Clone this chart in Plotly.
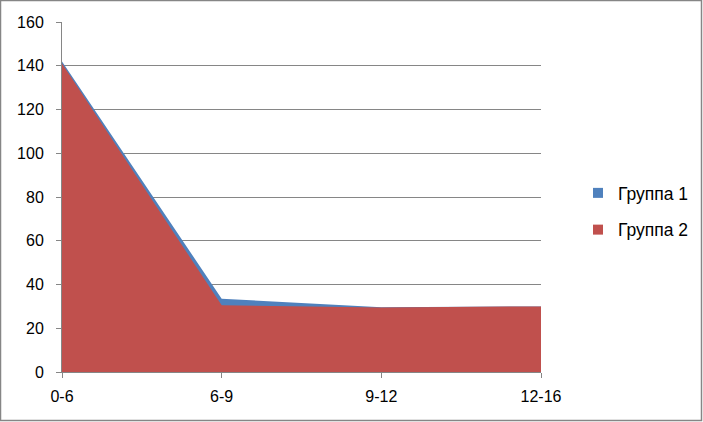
import plotly.graph_objects as go

# =========================
# Data
# =========================

categories = ['0-6', '6-9', '9-12', '12-16']
group_1 = [142, 33.5, 29.6, 30]
group_2 = [141, 30.5, 29.5, 30]
y_ticks = [0, 20, 40, 60, 80, 100, 120, 140, 160]
names = ['Группа 1', 'Группа 2']
colors = ['#4F81BD', '#C0504D']

# =========================
# Figure
# =========================

W, H = 703, 422
L, R, T, B = 62, 162, 22, 50
pw, ph = W - L - R, H - T - B

fig = go.Figure()

for name, vals, c in zip(names, [group_1, group_2], colors):
    fig.add_trace(go.Scatter(
        x=categories, y=vals, name=name,
        mode='lines', fill='tozeroy',
        line=dict(color=c, width=0),
        fillcolor=c, showlegend=False
    ))

# legend swatches (squares, as in Excel)
for name, c in zip(names, colors):
    fig.add_trace(go.Scatter(
        x=[None], y=[None], name=name, legendgroup=name,
        mode='markers',
        marker=dict(symbol='square', size=10, color=c)
    ))

font = dict(family='Liberation Sans, sans-serif', size=16, color='#000000')

fig.update_layout(
    width=W, height=H,
    margin=dict(l=L, r=R, t=T, b=B, autoexpand=False),
    paper_bgcolor='white',
    plot_bgcolor='white',
    font=font,
    showlegend=True,
    legend=dict(
        xref='container', yref='container',
        x=578 / W, y=1 - 175 / H,
        xanchor='left', yanchor='top',
        bgcolor='rgba(0,0,0,0)',
        font=dict(family='Liberation Sans, sans-serif', size=17.5, color='#000000'),
        tracegroupgap=11,
        traceorder='grouped',
        itemwidth=30
    ),
    xaxis=dict(
        type='category', range=[0, 3],
        showgrid=False, zeroline=False,
        showline=True, linecolor='#868686', linewidth=1,
        ticks='outside', ticklen=5, tickcolor='#868686',
        ticklabelstandoff=5,
        tickfont=font
    ),
    yaxis=dict(
        range=[0, 160], tickvals=y_ticks,
        showgrid=True, gridcolor='#868686', gridwidth=1,
        zeroline=False,
        showline=True, linecolor='#868686', linewidth=1,
        ticks='outside', ticklen=5, tickcolor='#868686',
        ticklabelstandoff=9,
        tickfont=font
    ),
    shapes=[dict(
        type='rect', xref='paper', yref='paper',
        x0=(0.5 - L) / pw, x1=(W - 1.5 - L) / pw,
        y0=(1.5 - B) / ph, y1=(H - 0.5 - B) / ph,
        line=dict(color='#868686', width=1.5),
        layer='below'
    )]
)

fig.write_html("out.html", config={'displayModeBar': False},
               post_script="document.body.style.margin='0';")
